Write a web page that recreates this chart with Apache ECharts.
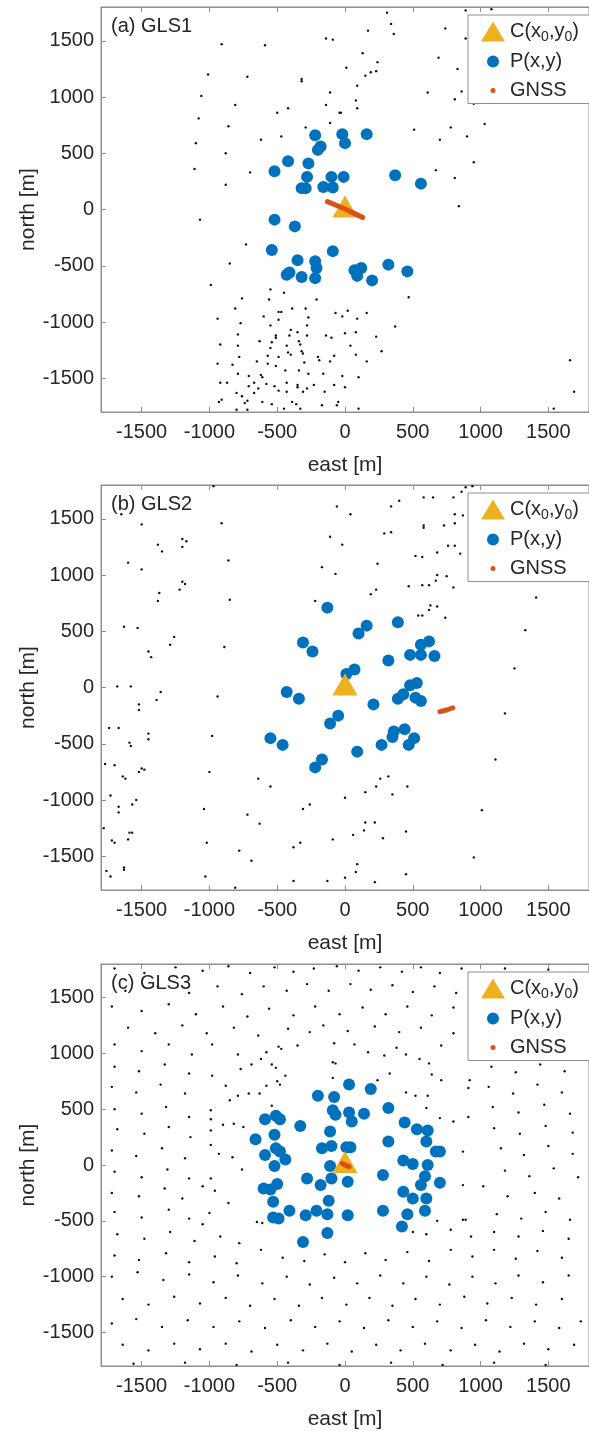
<!DOCTYPE html>
<html><head><meta charset="utf-8">
<script src="https://cdn.jsdelivr.net/npm/echarts@6/dist/echarts.min.js"></script>
<style>html,body{margin:0;padding:0;background:#fff}#c{width:589px;height:1431px}</style>
</head><body><div id="c"></div>
<script>
const panelTitles = ['(a) GLS1', '(b) GLS2', '(c) GLS3'];
const tickValues = [-1500, -1000, -500, 0, 500, 1000, 1500];
const axisRange = [-1800, 1800];
const xName = 'east [m]';
const yName = 'north [m]';
const legendNames = ['C(x0,y0)', 'P(x,y)', 'GNSS'];

const centerA = [[0, 0]];
const centerB = [[0, 0]];
const centerC = [[0, 0]];

const pointsA = [[-220,660],[-20,670],[0,590],[160,670],[-200,530],[-180,560],[-420,430],[-270,410],[-520,340],[-280,290],[-100,290],[-10,290],[-320,190],[-290,190],[-160,200],[-90,195],[370,305],[560,230],[-520,-90],[-370,-150],[-540,-360],[-90,-370],[-350,-450],[-220,-460],[-210,-520],[-430,-580],[-410,-560],[-320,-600],[-220,-610],[70,-540],[120,-520],[90,-590],[200,-630],[320,-490],[460,-550]];
const gnssA = [[-130,70],[-60,35],[0,5],[60,-30],[130,-70]];
const stationsA = [[310,1750],[340,1650],[360,1560],[890,1770],[1080,1780],[170,1590],[-140,1520],[-90,1510],[-590,1460],[-910,1470],[130,1390],[240,1310],[690,1350],[830,1250],[890,1520],[740,1610],[10,1260],[190,1220],[230,1230],[150,1190],[-1010,1200],[-720,1180],[-320,1160],[-320,1140],[90,1100],[-110,1040],[610,1040],[810,980],[860,1050],[950,940],[-1060,1010],[-810,930],[-420,900],[-500,860],[-140,930],[80,970],[90,900],[-40,860],[-30,860],[-1080,810],[-860,740],[-290,730],[-110,770],[-470,650],[-620,620],[510,710],[780,730],[900,650],[700,620],[1030,760],[-1100,590],[-880,500],[950,420],[-1110,360],[-700,330],[670,350],[810,280],[-880,220],[840,30],[-1070,-90],[-730,-310],[-850,-480],[-990,-670],[-550,-710],[-450,-740],[-560,-800],[-760,-790],[-210,-800],[470,-780],[-810,-880],[-600,-950],[-490,-910],[-470,-910],[-390,-880],[-290,-880],[-940,-970],[-770,-1010],[-490,-980],[-550,-1030],[-70,-920],[-20,-950],[20,-900],[90,-970],[160,-920],[-270,-960],[-280,-1030],[-400,-1070],[-410,-1120],[-350,-1090],[-280,-1120],[-140,-1120],[-100,-1140],[0,-1100],[80,-1090],[370,-1040],[230,-1130],[-790,-1110],[-510,-1120],[-510,-1140],[-630,-1170],[-540,-1180],[-920,-1200],[-790,-1210],[-340,-1170],[-330,-1200],[-430,-1210],[-550,-1230],[40,-1210],[270,-1260],[-780,-1310],[-570,-1300],[-490,-1310],[-420,-1270],[-400,-1290],[-320,-1260],[-310,-1280],[-200,-1310],[-80,-1300],[80,-1290],[-940,-1370],[-830,-1380],[-650,-1350],[-570,-1370],[-510,-1390],[-300,-1360],[-190,-1340],[-110,-1350],[160,-1350],[-790,-1460],[-620,-1470],[-610,-1490],[-710,-1480],[-440,-1430],[-340,-1430],[-270,-1460],[-160,-1460],[-20,-1480],[100,-1490],[-920,-1540],[-870,-1540],[-710,-1570],[-670,-1540],[-580,-1550],[-520,-1570],[-430,-1540],[-350,-1560],[-350,-1580],[-230,-1560],[-80,-1560],[0,-1580],[-800,-1630],[-760,-1660],[-640,-1590],[-490,-1610],[-430,-1620],[-310,-1620],[-280,-1590],[-150,-1620],[-670,-1630],[-930,-1710],[-910,-1690],[-720,-1700],[-740,-1720],[-610,-1710],[-540,-1730],[-390,-1710],[-360,-1730],[-170,-1740],[-60,-1740],[-50,-1710],[-800,-1780],[-720,-1780],[-450,-1770],[-330,-1770],[100,-1770],[1660,-1340],[1690,-1620],[1540,-1770]];

const pointsB = [[-130,710],[160,550],[100,480],[390,580],[-310,400],[-240,320],[320,240],[480,290],[560,380],[620,410],[560,290],[660,280],[70,160],[10,120],[-430,-40],[-340,-100],[210,-150],[390,-100],[430,-60],[480,20],[530,40],[520,-90],[560,-120],[-50,-250],[-110,-320],[-550,-450],[-460,-510],[90,-570],[270,-510],[360,-390],[350,-440],[440,-370],[510,-450],[470,-510],[-170,-640],[-220,-710]];
const gnssB = [[700,-215],[750,-200],[795,-180]];
const stationsB = [[-970,1790],[890,1780],[940,1790],[580,1690],[650,1690],[800,1690],[860,1740],[400,1660],[340,1610],[-60,1610],[40,1540],[810,1540],[870,1530],[730,1440],[810,1460],[580,1440],[580,1420],[-910,1460],[-1500,1450],[-1650,1540],[-110,1340],[-20,1270],[290,1370],[340,1380],[760,1260],[810,1260],[850,1190],[680,1200],[520,1170],[570,1160],[-1380,1270],[-1350,1210],[-1200,1320],[-1170,1300],[-1200,1250],[-860,1130],[-1600,1110],[-1500,1050],[-170,1070],[-70,1010],[240,1100],[680,1000],[750,990],[670,950],[470,900],[570,910],[620,910],[800,890],[230,870],[190,830],[1410,800],[-1200,940],[-1180,920],[-1220,870],[-1370,840],[-1380,770],[-850,780],[-220,770],[630,730],[680,720],[620,690],[540,640],[570,640],[740,620],[1330,510],[-1630,540],[-1530,530],[-1260,450],[-1290,380],[-890,360],[-1450,320],[-1430,270],[1250,170],[-1680,10],[-1580,10],[-1360,-40],[-1390,-110],[-940,-80],[-1520,-150],[-1520,-200],[1180,-230],[-1740,-360],[-1670,-360],[-1450,-410],[-1450,-460],[-980,-430],[-1590,-490],[-1580,-520],[-1770,-680],[-1700,-690],[1110,-640],[-1500,-720],[-1480,-730],[-1520,-750],[-1000,-750],[-1640,-790],[-1620,-810],[-640,-810],[-550,-880],[260,-810],[320,-790],[230,-880],[460,-880],[150,-930],[350,-950],[-1730,-960],[-1540,-1000],[-1570,-1040],[0,-980],[-260,-1040],[-310,-1080],[-1670,-1060],[-1670,-1110],[-1040,-1080],[1010,-1090],[-720,-1130],[-630,-1210],[150,-1200],[220,-1200],[140,-1270],[450,-1280],[-1590,-1290],[-1570,-1290],[60,-1310],[280,-1340],[-1720,-1360],[-1700,-1380],[-1600,-1350],[-1020,-1380],[-330,-1380],[-90,-1350],[-380,-1420],[-780,-1450],[950,-1510],[-690,-1540],[90,-1570],[80,-1640],[-1630,-1600],[-1630,-1620],[-1760,-1630],[-1730,-1680],[450,-1660],[0,-1690],[-1030,-1680],[-810,-1780],[-380,-1720],[-130,-1720],[220,-1730],[-1780,-1250]];

const pointsC = [[30,720],[190,680],[-200,620],[-80,610],[320,510],[-90,490],[-70,450],[30,470],[50,390],[140,460],[-590,410],[-510,440],[-480,410],[-330,350],[-110,300],[440,380],[530,320],[610,310],[-660,230],[-520,270],[600,210],[320,210],[-170,150],[-100,170],[10,160],[40,160],[-510,150],[-480,120],[-440,50],[-590,90],[670,120],[700,120],[-110,-10],[430,40],[500,10],[610,0],[-520,-10],[280,-90],[-280,-120],[-180,-180],[-100,-120],[20,-150],[590,-100],[560,-180],[700,-160],[-600,-210],[-550,-220],[-500,-170],[-530,-330],[-120,-320],[430,-240],[500,-300],[600,-300],[-410,-410],[-290,-450],[-210,-410],[-130,-440],[20,-450],[280,-410],[590,-410],[460,-440],[-530,-470],[-490,-480],[420,-550],[-130,-610],[-310,-690]];
const gnssC = [[-20,15],[0,0],[30,-15]];
const stationsC = [[-980,1080],[-790,990],[-690,900],[-770,860],[-620,950],[-580,1010],[-490,1060],[-470,1040],[-350,1070],[-80,1090],[70,1080],[170,1010],[290,980],[380,1050],[450,990],[550,950],[620,910],[710,1070],[-540,900],[-510,870],[-440,800],[-500,750],[-480,720],[-980,800],[-880,710],[-790,620],[-850,580],[-710,640],[-630,640],[-580,710],[-540,530],[-90,920],[-70,910],[-90,780],[240,760],[330,820],[450,650],[520,620],[610,620],[640,810],[710,760],[600,510],[920,760],[910,690],[700,420],[800,390],[910,430],[-990,490],[-990,410],[-900,360],[-820,370],[-750,340],[-990,310],[-990,180],[-930,100],[-830,70],[-760,-40],[-1050,-190],[-990,-120],[-960,-230],[-860,-340],[-1000,-430],[-1050,-530],[-650,-510],[-610,-520],[870,120],[870,-180],[1020,-190],[680,-500],[870,-490],[890,-490],[500,-600],[600,-620],
[-1700,1760],[-1480,1720],[-1250,1770],[-1050,1740],[-860,1780],[-700,1720],[-520,1770],[-380,1730],[-230,1760],[-60,1780],[100,1740],[260,1770],[420,1730],[560,1770],[700,1720],[860,1760],[1020,1710],[1180,1760],[1330,1700],[1500,1750],[1660,1720],
[-1620,1560],[-1380,1600],[-1150,1540],[-940,1600],[-760,1530],[-600,1600],[-430,1560],[-280,1620],[-120,1560],[40,1620],[190,1570],[350,1610],[500,1550],[660,1600],[820,1540],[980,1590],[1130,1520],[1290,1580],[1450,1530],[1620,1580],
[-1720,1420],[-1500,1380],[-1300,1440],[-1100,1350],[-900,1420],[-720,1330],[-560,1400],[-380,1340],[-220,1420],[-40,1350],[130,1410],[300,1350],[460,1420],[640,1340],[800,1410],[960,1330],[1130,1400],[1300,1330],[1480,1400],[1680,1350],
[-1600,1230],[-1400,1180],[-1200,1250],[-1020,1180],[-820,1230],[-640,1160],[-420,1220],[-260,1190],[-160,1250],[20,1200],[220,1240],[400,1190],[560,1230],[800,1180],[1000,1240],[1180,1170],[1380,1240],[1560,1190],[1720,1240],
[-1700,1080],[-1500,1020],[-1300,1080],[-1130,990],[-1700,880],[-1520,840],[-1330,900],[-1150,820],[1100,1060],[1280,990],[1450,1060],[1650,990],[1080,880],[1260,830],[1440,900],[1620,840],
[-1720,700],[-1540,650],[-1360,720],[-1180,640],[-1700,500],[-1500,460],[-1320,520],[-1150,430],[-1680,320],[-1480,280],[-1300,340],[-1140,250],[1060,700],[1240,640],[1420,720],[1600,650],[1090,520],[1280,470],[1470,540],[1660,460],[1100,330],[1290,280],[1480,350],[1680,290],
[-1720,130],[-1540,80],[-1350,150],[-1180,60],[-1700,-60],[-1500,-110],[-1310,-40],[-1150,-120],[-1720,-250],[-1520,-280],[-1330,-210],[-1200,-300],[1150,150],[1320,90],[1500,170],[1680,100],[1180,-50],[1360,-100],[1540,-30],[1720,-110],[1200,-280],[1400,-250],[1580,-300],
[-1700,-420],[-1500,-470],[-1300,-400],[-1150,-480],[-1680,-620],[-1480,-660],[-1290,-600],[-1110,-680],[-920,-640],[-780,-700],[-1700,-810],[-1520,-850],[-1320,-790],[-1150,-870],[-960,-820],[-800,-880],[-620,-760],[-460,-830],[-300,-860],[-150,-800],[0,-870],[150,-790],[300,-850],[460,-780],[620,-860],[780,-760],[940,-820],[1100,-760],[1260,-840],[1420,-770],[1600,-830],[1120,-440],[1300,-480],[1480,-420],[1660,-490],[1100,-600],[1280,-640],[1460,-590],[1650,-660],[780,-580],[930,-640],
[-1720,-1000],[-1530,-960],[-1340,-1030],[-1150,-980],[-970,-1050],[-790,-990],[-610,-1060],[-430,-1000],[-260,-1070],[-80,-1010],[90,-1060],[260,-990],[430,-1060],[600,-1000],[770,-1070],[940,-1000],[1110,-1060],[1280,-990],[1460,-1050],[1650,-990],
[-1640,-1200],[-1450,-1250],[-1260,-1180],[-1070,-1240],[-880,-1190],[-700,-1260],[-520,-1200],[-340,-1260],[-170,-1190],[10,-1250],[180,-1190],[350,-1260],[520,-1200],[700,-1250],[880,-1180],[1050,-1240],[1230,-1190],[1410,-1250],[1600,-1200],
[-1720,-1420],[-1540,-1380],[-1350,-1450],[-1160,-1390],[-970,-1450],[-780,-1400],[-590,-1460],[-400,-1390],[-220,-1450],[-40,-1400],[140,-1460],[320,-1390],[500,-1450],[680,-1400],[860,-1460],[1040,-1390],[1220,-1450],[1400,-1400],[1580,-1460],[1740,-1400],
[-1640,-1610],[-1450,-1660],[-1260,-1600],[-1070,-1650],[-880,-1600],[-690,-1670],[-500,-1610],[-310,-1660],[-130,-1600],[50,-1670],[230,-1610],[410,-1660],[590,-1600],[780,-1660],[960,-1610],[1140,-1670],[1320,-1600],[1500,-1650],[1690,-1610],
[-1560,-1780],[-1180,-1770],[-800,-1790],[-420,-1770],[-40,-1790],[340,-1770],[720,-1790],[1100,-1770],[1480,-1790]];

const FONT = "'Liberation Sans', Arial, Helvetica, sans-serif";
const TEXT = '#262626';
const BOX = '#8f8f8f';
const BLUE = '#0072BD';
const GOLD = '#EDB120';
const RED = '#D95319';

const gridTops = [7, 485, 964];
const gridH = 405;

const triIcon = 'path://M0,0L0.01,0L0,0.01Z M12,1.5 L24.5,22.5 L-0.5,22.5 Z M24,24L23.99,24L24,23.99Z';
const dotIcon = 'path://M0,0L0.01,0L0,0.01Z M6,12 A6,6 0 1,0 18,12 A6,6 0 1,0 6,12 Z M24,24L23.99,24L24,23.99Z';
const smallIcon = 'path://M0,0L0.01,0L0,0.01Z M9.5,12 A2.5,2.5 0 1,0 14.5,12 A2.5,2.5 0 1,0 9.5,12 Z M24,24L23.99,24L24,23.99Z';

const data = [
  {stations: stationsA, points: pointsA, center: centerA, gnss: gnssA},
  {stations: stationsB, points: pointsB, center: centerB, gnss: gnssB},
  {stations: stationsC, points: pointsC, center: centerC, gnss: gnssC}
];

const grid = [], xAxis = [], yAxis = [], series = [], title = [], legend = [];
gridTops.forEach((top, i) => {
  grid.push({left: 101, right: -5, top: top, height: gridH, show: true, borderColor: BOX, borderWidth: 1, backgroundColor: '#fff'});
  xAxis.push({
    gridIndex: i, type: 'value', min: axisRange[0], max: axisRange[1], position: 'bottom',
    name: xName, nameLocation: 'middle', nameGap: 43, nameMoveOverlap: false,
    nameTextStyle: {fontFamily: FONT, fontSize: 21, color: TEXT},
    axisLine: {show: true, onZero: false, lineStyle: {color: BOX}},
    axisTick: {show: true, inside: true, length: 5, customValues: tickValues, lineStyle: {color: BOX}},
    axisLabel: {customValues: tickValues, margin: 10, fontFamily: FONT, fontSize: 20, color: TEXT,
      formatter: v => String(v)},
    splitLine: {show: false}
  });
  yAxis.push({
    gridIndex: i, type: 'value', min: axisRange[0], max: axisRange[1],
    name: yName, nameLocation: 'middle', nameGap: 62, nameRotate: 90, nameMoveOverlap: false,
    nameTextStyle: {fontFamily: FONT, fontSize: 21, color: TEXT},
    axisLine: {show: true, onZero: false, lineStyle: {color: BOX}},
    axisTick: {show: true, inside: true, length: 5, customValues: tickValues, lineStyle: {color: BOX}},
    axisLabel: {customValues: tickValues, margin: 7, fontFamily: FONT, fontSize: 20, color: TEXT,
      formatter: v => String(v)},
    splitLine: {show: false}
  });
  title.push({text: panelTitles[i], left: 111, top: top + 9,
    textStyle: {fontFamily: FONT, fontSize: 20, fontWeight: 'normal', color: TEXT}, padding: 0});
  legend.push({
    orient: 'vertical', left: 468, top: top + 8,
    padding: [5, 120, 1, 13], itemGap: 5, itemWidth: 24, itemHeight: 24,
    backgroundColor: '#fff', borderColor: BOX, borderWidth: 1, borderRadius: 0,
    selectedMode: false,
    data: [
      {name: legendNames[0], icon: triIcon},
      {name: legendNames[1], icon: dotIcon},
      {name: legendNames[2], icon: smallIcon}
    ],
    formatter: function (name) {
      if (name === legendNames[0]) return 'C(x{s|0},y{s|0})';
      return name;
    },
    textStyle: {fontFamily: FONT, fontSize: 20, color: TEXT,
      rich: {s: {fontFamily: FONT, fontSize: 14, color: TEXT, padding: [12, 0, 0, 0], verticalAlign: 'bottom'}}}
  });
});
for (let i = 0; i < 3; i++) {
  xAxis.push({
    gridIndex: i, type: 'value', min: axisRange[0], max: axisRange[1], position: 'top',
    axisLine: {show: true, onZero: false, lineStyle: {color: BOX}},
    axisTick: {show: true, inside: true, length: 5, customValues: tickValues, lineStyle: {color: BOX}},
    axisLabel: {show: false}, splitLine: {show: false}
  });
}
data.forEach((d, i) => {
  series.push({type: 'scatter', name: 'stations', xAxisIndex: i, yAxisIndex: i, data: d.stations,
    symbol: 'circle', symbolSize: 2.4, itemStyle: {color: '#111', opacity: 1}, silent: true, z: 1});
  series.push({type: 'scatter', name: legendNames[1], xAxisIndex: i, yAxisIndex: i, data: d.points,
    symbol: 'circle', symbolSize: 12, itemStyle: {color: BLUE, opacity: 1}, z: 2});
  series.push({type: 'scatter', name: legendNames[0], xAxisIndex: i, yAxisIndex: i, data: d.center,
    symbol: 'triangle', symbolSize: [25, 22], symbolOffset: [0, -3], itemStyle: {color: GOLD, opacity: 1}, z: 3});
  series.push({type: 'line', name: legendNames[2], xAxisIndex: i, yAxisIndex: i, data: d.gnss,
    symbol: 'none', lineStyle: {color: RED, width: 5, cap: 'round'}, itemStyle: {color: RED}, z: 4});
});

const chart = echarts.init(document.getElementById('c'), null, {renderer: 'canvas'});
chart.setOption({animation: false, backgroundColor: '#fff', grid, xAxis, yAxis, series, title, legend});
</script>
</body></html>
